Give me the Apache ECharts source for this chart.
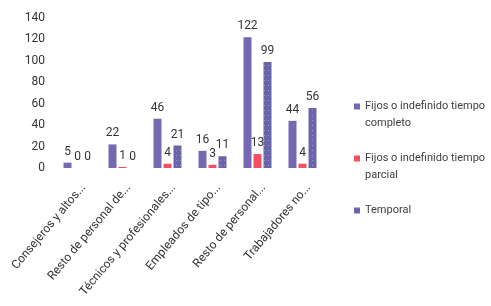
<!DOCTYPE html>
<html><head><meta charset="utf-8">
<script src="https://cdn.jsdelivr.net/npm/echarts@6/dist/echarts.min.js"></script>
<style>html,body{margin:0;padding:0;background:#fff}#c{width:491px;height:306px}</style>
</head><body><div id="c"></div>
<script>
var categories = ["Consejeros y altos...", "Resto de personal de...", "Técnicos y profesionales...", "Empleados de tipo...", "Resto de personal...", "Trabajadores no..."];
var fijosCompleto = [5, 22, 46, 16, 122, 44];
var fijosParcial = [0, 1, 4, 3, 13, 4];
var temporal = [0, 0, 21, 11, 99, 56];
var seriesNames = ["Fijos o indefinido tiempo completo", "Fijos o indefinido tiempo parcial", "Temporal"];
var yTicks = {min: 0, max: 140, interval: 20};

var font = "'Roboto', sans-serif";
var chart = echarts.init(document.getElementById('c'));
var lbl = {show: true, position: 'top', color: '#333', fontSize: 12, fontFamily: font, distance: 5};
chart.setOption({
  animation: false,
  grid: {left: 55, right: 166, top: 18, bottom: 138, containLabel: false, outerBoundsMode: 'none'},
  xAxis: {
    type: 'category', data: categories,
    axisLine: {show: false}, axisTick: {show: false},
    axisLabel: {rotate: 50, interval: 0, color: '#333', fontSize: 12, fontFamily: font, margin: 6,
      verticalAlign: 'top', padding: [6, 5, 0, 0]}
  },
  yAxis: {
    type: 'value', min: yTicks.min, max: yTicks.max, interval: yTicks.interval,
    splitLine: {show: false}, axisLine: {show: false}, axisTick: {show: false},
    axisLabel: {color: '#333', fontSize: 12, fontFamily: font, margin: 10}
  },
  legend: {
    orient: 'vertical', left: 349, top: 76, itemWidth: 6, itemHeight: 6, itemGap: 1,
    icon: 'rect',
    textStyle: {color: '#404040', fontSize: 11, fontFamily: font, lineHeight: 17},
    formatter: function (n) {
      var t = n.replace(' tiempo ', ' tiempo\n');
      return ' \n' + t + (t.indexOf('\n') < 0 ? '\n ' : '');
    },
    data: seriesNames
  },
  series: [
    {name: seriesNames[0], type: 'bar', data: fijosCompleto, barWidth: 8, barGap: '25%', itemStyle: {color: '#7568b3'}, label: lbl},
    {name: seriesNames[1], type: 'bar', data: fijosParcial, barWidth: 8, barGap: '25%', itemStyle: {color: '#f0505f'}, label: lbl},
    {name: seriesNames[2], type: 'bar', data: temporal, barWidth: 8, barGap: '25%', itemStyle: {color: '#6a64ab',
      decal: {symbol: 'rect', color: 'rgba(200,195,230,0.55)', dashArrayX: [1, 3], dashArrayY: [1, 4], symbolSize: 1, rotation: 0}}, label: lbl}
  ]
});
</script></body></html>
